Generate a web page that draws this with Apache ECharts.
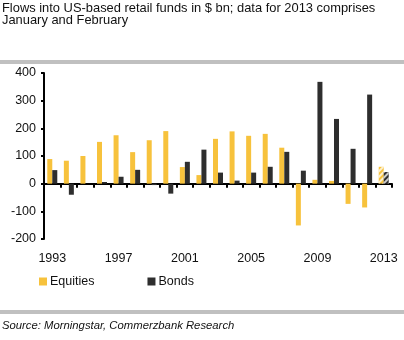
<!DOCTYPE html>
<html>
<head>
<meta charset="utf-8">
<script src="https://cdn.jsdelivr.net/npm/echarts@6/dist/echarts.min.js"></script>
<style>
html, body { margin: 0; padding: 0; background: #fff; }
#chart { width: 404px; height: 340px; }
</style>
</head>
<body>
<div id="chart"></div>
<script>
// Annual flows into US-based retail funds, $ bn (2013 = Jan + Feb only)
var years = ['1993','1994','1995','1996','1997','1998','1999','2000','2001','2002','2003',
             '2004','2005','2006','2007','2008','2009','2010','2011','2012','2013'];
var equities = [89, 83, 100, 151, 175, 114, 157, 190, 60, 31, 162,
                189, 173, 180, 130, -151, 14, 10, -73, -86, 61];
var bonds = [49, -40, 0, 6, 25, 50, -5, -36, 79, 123, 40,
             11, 40, 61, 115, 47, 368, 234, 126, 322, 42];
var yTicks = [-200, -100, 0, 100, 200, 300, 400];

var YELLOW = '#F7C23C';
var DARK = '#2E2E2E';
var FONT = 'Liberation Sans, Arial, sans-serif';

// the partial year is drawn with a hatched pattern
function withPartial(values, color) {
  return values.map(function (v, i) {
    if (i === values.length - 1) {
      return {
        value: v,
        itemStyle: {
          color: color,
          decal: { symbol: 'rect', dashArrayX: [1, 0], dashArrayY: [2, 2], rotation: -Math.PI / 4, color: 'rgba(255,255,255,0.75)', symbolSize: 1 }
        }
      };
    }
    return v;
  });
}

var chart = echarts.init(document.getElementById('chart'), null, { renderer: 'canvas' });
chart.setOption({
  animation: false,
  backgroundColor: '#fff',
  textStyle: { fontFamily: FONT },
  title: {
    text: 'Flows into US-based retail funds in $ bn; data for 2013 comprises\nJanuary and February',
    left: 2, top: 2, padding: 0,
    textStyle: { fontSize: 12.9, fontWeight: 'normal', color: '#111', lineHeight: 12.5, fontFamily: FONT }
  },
  legend: {
    left: 34, top: 270,
    itemWidth: 8, itemHeight: 8, itemGap: 53,
    icon: 'rect',
    textStyle: { fontSize: 12.5, color: '#111', fontFamily: FONT, padding: [0, 0, 0, -2] },
    data: ['Equities', 'Bonds']
  },
  grid: { left: 44, right: 12, top: 73, bottom: 101, containLabel: false },
  xAxis: [
    {
      type: 'category', data: years,
      axisLine: { onZero: true, lineStyle: { color: '#000', width: 2 } },
      axisTick: { show: true, interval: 0, length: 4, lineStyle: { color: '#000', width: 2 } },
      axisLabel: { show: false }
    },
    {
      type: 'category', data: years, position: 'bottom',
      axisLine: { show: false }, axisTick: { show: false },
      axisLabel: { interval: 3, fontSize: 12.5, color: '#111', margin: 13, fontFamily: FONT }
    }
  ],
  yAxis: {
    type: 'value', min: yTicks[0], max: yTicks[yTicks.length - 1], interval: 100,
    axisLine: { show: true, lineStyle: { color: '#000', width: 2 } },
    axisTick: { show: true, length: 3, lineStyle: { color: '#000', width: 2 } },
    axisLabel: { fontSize: 12.5, color: '#111', margin: 8, fontFamily: FONT },
    splitLine: { show: false }
  },
  series: [
    { name: 'Equities', type: 'bar', xAxisIndex: 0, barWidth: 5, barGap: '0%',
      itemStyle: { color: YELLOW }, data: withPartial(equities, YELLOW) },
    { name: 'Bonds', type: 'bar', xAxisIndex: 0, barWidth: 5, barGap: '0%',
      itemStyle: { color: DARK }, data: withPartial(bonds, DARK) }
  ],
  graphic: [
    { type: 'rect', shape: { x: 0, y: 60, width: 404, height: 4 }, style: { fill: '#C0C0C0' } },
    { type: 'rect', shape: { x: 0, y: 310, width: 404, height: 4 }, style: { fill: '#C0C0C0' } },
    { type: 'text', left: 2, top: 320,
      style: { text: 'Source: Morningstar, Commerzbank Research', fontSize: 11.3, fontStyle: 'italic', fill: '#111', fontFamily: FONT } }
  ]
});
</script>
</body>
</html>
